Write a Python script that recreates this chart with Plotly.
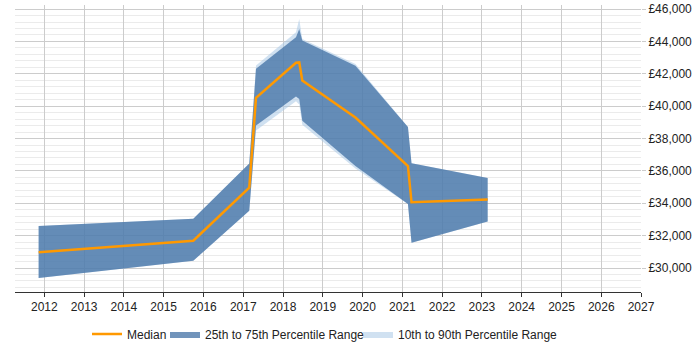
import plotly.graph_objects as go

dates = ["2011-11-10", "2015-09-30", "2017-02-25", "2017-04-28", "2018-04-30",
         "2018-05-30", "2018-06-27", "2019-10-28", "2021-02-21", "2021-03-26", "2023-02-23"]
median = [30980, 31690, 34970, 40520, 42680, 42700, 41590, 39300, 36300, 34060, 34230]
p75 = [32600, 33040, 36460, 42310, 44250, 44770, 44050, 42500, 38710, 36480, 35560]
p25 = [29380, 30450, 33540, 38800, 40600, 40450, 39100, 36300, 33950, 31560, 32870]
p90 = [32600, 33040, 36460, 42510, 44560, 45385, 44150, 42600, 38710, 36480, 35560]
p10 = [29380, 30450, 33540, 38500, 40300, 40100, 38850, 36150, 33950, 31560, 32870]

y_ticks = [30000, 32000, 34000, 36000, 38000, 40000, 42000, 44000, 46000]
y_labels = ["£30,000", "£32,000", "£34,000", "£36,000", "£38,000", "£40,000", "£42,000", "£44,000", "£46,000"]

DARK = "rgba(60,108,162,0.73)"
LIGHT = "rgba(170,200,230,0.55)"
ORANGE = "#ff9900"

fig = go.Figure()

# 10th-90th band
fig.add_trace(go.Scatter(
    x=dates + dates[::-1], y=p90 + p10[::-1], fill="toself", fillcolor=LIGHT,
    line=dict(width=0, color=LIGHT), mode="lines", hoverinfo="skip",
    name="10th to 90th Percentile Range", legend="legend3"))
# 25th-75th band
fig.add_trace(go.Scatter(
    x=dates + dates[::-1], y=p75 + p25[::-1], fill="toself", fillcolor=DARK,
    line=dict(width=0, color=DARK), mode="lines", hoverinfo="skip",
    name="25th to 75th Percentile Range", legend="legend2"))
# Median
fig.add_trace(go.Scatter(
    x=dates, y=median, mode="lines", line=dict(color=ORANGE, width=2.5),
    name="Median", legend="legend"))

def px2x(p):
    return (p - 15) / 626.0

leg_common = dict(orientation="h", y=-0.146, yanchor="middle", xanchor="left",
                  font=dict(size=12, color="#222"), itemwidth=30,
                  bgcolor="rgba(0,0,0,0)")

fig.update_layout(
    width=700, height=350,
    margin=dict(l=15, r=59, t=5, b=58, autoexpand=False),
    paper_bgcolor="white", plot_bgcolor="white",
    font=dict(family="Liberation Sans, Arial, sans-serif", size=12, color="#222"),
    showlegend=True,
    legend=dict(x=px2x(87), **leg_common),
    legend2=dict(x=px2x(165), **leg_common),
    legend3=dict(x=px2x(358), **leg_common),
    xaxis=dict(
        type="date", range=["2011-04-07", "2027-01-01"],
        tick0="2012-01-01", dtick="M12", tickformat="%Y",
        showgrid=True, gridcolor="#cccccc", gridwidth=1,
        showline=True, linecolor="#333", linewidth=1,
        ticks="outside", ticklen=4, tickcolor="#333",
        zeroline=False, fixedrange=True),
    yaxis=dict(
        range=[28520, 46250], side="right",
        tickmode="array", tickvals=y_ticks, ticktext=y_labels,
        showgrid=True, gridcolor="#cccccc", gridwidth=1,
        minor=dict(dtick=400, tick0=0, showgrid=True, gridcolor="#ebebeb", gridwidth=1),
        ticks="outside", ticklen=4, tickcolor="#cccccc",
        showline=False, zeroline=False, fixedrange=True),
)

fig.write_html("out.html")
